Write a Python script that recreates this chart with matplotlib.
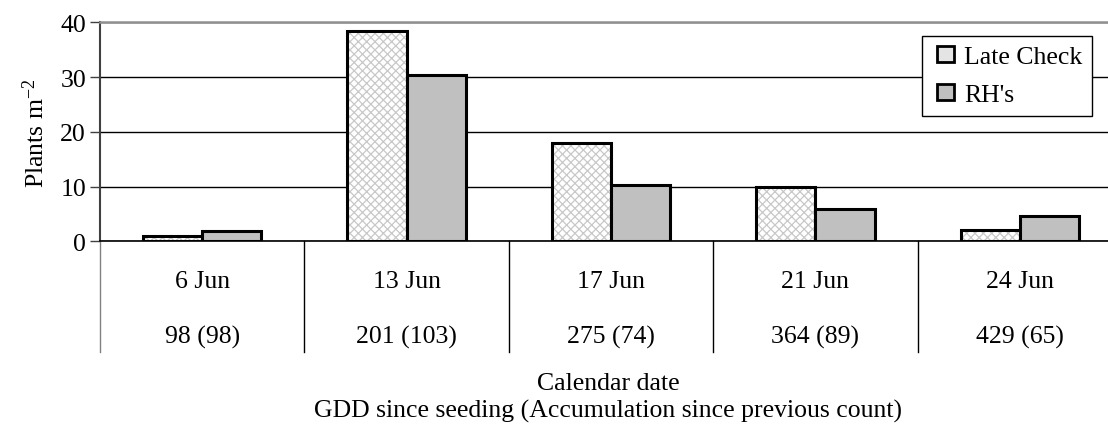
import matplotlib
matplotlib.use("Agg")
import matplotlib.pyplot as plt
from matplotlib.patches import Patch, Rectangle
from matplotlib.legend_handler import HandlerPatch
import numpy as np

dates = ["6 Jun", "13 Jun", "17 Jun", "21 Jun", "24 Jun"]
gdd = ["98 (98)", "201 (103)", "275 (74)", "364 (89)", "429 (65)"]
late_check = [0.9, 38.4, 17.9, 10.0, 2.1]
rhs = [1.9, 30.3, 10.3, 5.9, 4.6]
yticks = [0, 10, 20, 30, 40]

plt.rcParams['font.family'] = ['Liberation Serif', 'DejaVu Serif']
plt.rcParams['mathtext.default'] = 'regular'
plt.rcParams['hatch.linewidth'] = 0.9
FS = 18.5

fig = plt.figure(figsize=(11.08, 4.31), dpi=100)
ax = fig.add_axes([100/1108, (431-242.3)/431, 1022/1108, 219/431])

x = np.arange(len(dates)) + 0.5
w = 0.29
# hatched fill for Late Check
ax.bar(x - w/2, late_check, w, color='white', edgecolor='#c8c8c8', hatch='xxxx', linewidth=0, zorder=3)
ax.bar(x - w/2, late_check, w, fill=False, edgecolor='black', linewidth=2.2, zorder=4)
ax.bar(x + w/2, rhs, w, color='#c0c0c0', edgecolor='black', linewidth=2.2, zorder=4)

ax.set_xlim(0, len(dates))
ax.set_ylim(0, 40)
ax.set_yticks(yticks)
ax.set_yticklabels([str(t) for t in yticks], fontsize=FS)
ax.set_xticks([])
ax.yaxis.grid(True, color='black', linewidth=1.0, zorder=0)
ax.set_axisbelow(True)
ax.tick_params(axis='y', direction='out', length=7, width=1, color='#404040', pad=3)

ax.spines['right'].set_visible(False)
ax.spines['top'].set_color('#909090')
ax.spines['top'].set_linewidth(1.8)
ax.spines['left'].set_color('#404040')
ax.spines['left'].set_linewidth(1.5)
ax.spines['bottom'].set_color('black')
ax.spines['bottom'].set_linewidth(1.2)
ax.spines['bottom'].set_zorder(5)

ax.set_ylabel('Plants m$^{-2}$', fontsize=FS, labelpad=8)

# category table below
trans = matplotlib.transforms.blended_transform_factory(ax.transData, ax.transAxes)
y_bot = -(353 - 242.3) / 219
for i in range(len(dates) + 1):
    ax.plot([i, i], [0, y_bot], transform=trans, color='black' if i else '#808080',
            linewidth=1.0, clip_on=False, zorder=5)
for xi, d, g in zip(x, dates, gdd):
    ax.text(xi, -(282 - 242.3) / 219, d, transform=trans, ha='center', va='center', fontsize=FS)
    ax.text(xi, -(337 - 242.3) / 219, g, transform=trans, ha='center', va='center', fontsize=FS)

fig.text(608/1108, 1 - 384/431, 'Calendar date', ha='center', va='center', fontsize=FS)
fig.text(608/1108, 1 - 411/431, 'GDD since seeding (Accumulation since previous count)',
         ha='center', va='center', fontsize=FS)


def square_patch(legend, orig_handle, xdescent, ydescent, width, height, fontsize):
    return Rectangle((width - height - xdescent, -ydescent), height, height)


handles = [Patch(facecolor='#e4e4e4', edgecolor='black', linewidth=2),
           Patch(facecolor='#c0c0c0', edgecolor='black', linewidth=2)]
leg = ax.legend(handles, ['Late Check', "RH's"], loc='upper left',
                bbox_to_anchor=((922-100)/1022, (242.3-37)/219), borderaxespad=0,
                fontsize=FS, handlelength=0.85, handleheight=0.6, handletextpad=0.4,
                labelspacing=0.62, borderpad=0.38, fancybox=False, framealpha=1,
                edgecolor='black',
                handler_map={Patch: HandlerPatch(patch_func=square_patch)})
leg.get_frame().set_linewidth(1.0)
leg.set_zorder(10)

fig.savefig('out.png', dpi=100)
